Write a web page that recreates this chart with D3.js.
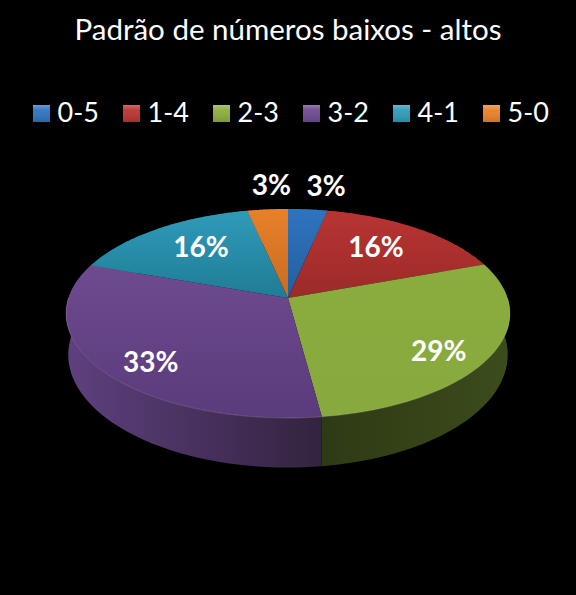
<!DOCTYPE html>
<html><head><meta charset="utf-8">
<script src="https://cdn.jsdelivr.net/npm/d3@7/dist/d3.min.js"></script>
<style>html,body{margin:0;padding:0;background:#000}svg{display:block}text{font-family:Lato,"Open Sans",sans-serif;fill:#fff}</style>
</head><body><script>
const titleText = "Padrão de números baixos - altos";
const categories = ["0-5","1-4","2-3","3-2","4-1","5-0"];
const percentages = [3.3,16.1,28.5,32.5,16.2,3.4];
const colorsTop = ["#2f74bf","#b93432","#8bad3f","#6f4a90","#2f9bb9","#e8812b"];
const colorsBottom = ["#215f9e","#9a2b29","#87a93d","#5a3b7b","#1f7c96","#c96b20"];
const wallLeft = ["#1c3c62","#5e1e1c","#2e3a14","#5e407f","#145060","#7e4214"];
const wallRight = ["#1c3c62","#5e1e1c","#3c4c1c","#33233f","#145060","#7e4214"];
// layout of the percent labels: radial fraction and small turn (degrees) from slice middle
const labelRadius = [1.33,0.69,0.8,0.81,0.69,1.32];
const labelTurn = [3,-2,6,-6,3,2.2];

const W=576,H=595;
const svg=d3.select("body").append("svg").attr("width",W).attr("height",H);
svg.append("rect").attr("width",W).attr("height",H).attr("fill","#000");
const defs=svg.append("defs");

const cx=288,cy=298,a=219.5,b=102.2,k=-0.148,bottomShrink=0.99,bottomStretch=1.08,bottomDrop=40;
function project(theta,r=1){
  const u=r*Math.sin(theta),v=-r*Math.cos(theta),w=1+k*v;
  return [cx+a*u/w,cy+b*v/w];
}
const lift=p=>[cx+(p[0]-cx)*bottomShrink,cy+(p[1]-cy)*bottomStretch+bottomDrop];
const line=d3.line();
const arcPts=(s,e)=>d3.range(0,61).map(i=>project(s+(e-s)*i/60));

const arcs=d3.pie().sort(null)(percentages);

// gradients
arcs.forEach((d,i)=>{
  const g=defs.append("linearGradient").attr("id","top"+i).attr("x1",0).attr("y1",0).attr("x2",0).attr("y2",1);
  g.append("stop").attr("offset",0).attr("stop-color",colorsTop[i]);
  g.append("stop").attr("offset",1).attr("stop-color",colorsBottom[i]);
  const h=defs.append("linearGradient").attr("id","wall"+i).attr("x1",0).attr("y1",0).attr("x2",1).attr("y2",0);
  h.append("stop").attr("offset",0).attr("stop-color",wallLeft[i]);
  h.append("stop").attr("offset",1).attr("stop-color",wallRight[i]);
});

// title
svg.append("text").attr("x",288).attr("y",40).attr("text-anchor","middle")
  .attr("font-size",29.5).text(titleText);

// legend
const legendX=d3.scaleBand().domain(categories).range([33,33+90*6]);
const legend=svg.append("g").selectAll("g").data(categories).join("g")
  .attr("transform",d=>`translate(${legendX(d)},0)`);
const sg=defs.append("linearGradient").attr("id","sheen").attr("x1",0).attr("y1",0).attr("x2",0).attr("y2",1);
sg.append("stop").attr("offset",0).attr("stop-color","#fff").attr("stop-opacity",.28);
sg.append("stop").attr("offset",.3).attr("stop-color","#fff").attr("stop-opacity",.05);
sg.append("stop").attr("offset",1).attr("stop-color","#000").attr("stop-opacity",.12);
legend.append("rect").attr("y",105).attr("width",17).attr("height",17).attr("fill",(d,i)=>colorsTop[i]);
legend.append("rect").attr("y",105).attr("width",17).attr("height",17).attr("fill","url(#sheen)");
legend.append("text").attr("x",24.5).attr("y",122).attr("font-size",27).text(d=>d);

// side walls (back to front; the top faces hide the rear ones)
const pie=svg.append("g");
pie.selectAll("path.wall").data(arcs).join("path").attr("class","wall")
  .attr("fill",(d,i)=>`url(#wall${i})`)
  .attr("d",d=>{
    const t=arcPts(d.startAngle,d.endAngle);
    return line(t.concat(t.map(lift).reverse()))+"Z";
  });

// top faces
pie.selectAll("path.top").data(arcs).join("path").attr("class","top")
  .attr("fill",(d,i)=>`url(#top${i})`)
  .attr("d",d=>line([[cx,cy]].concat(arcPts(d.startAngle,d.endAngle)))+"Z");

// pale highlight along the rim of the front slices
pie.selectAll("path.rim").data(arcs).join("path").attr("class","rim")
  .attr("fill","none").attr("stroke","#fff").attr("stroke-opacity",.18).attr("stroke-width",1)
  .attr("d",d=>{
    const s=Math.max(d.startAngle,Math.PI/2),e=Math.min(d.endAngle,Math.PI*1.5);
    return e>s?line(arcPts(s,e)):null;
  });

// percent labels
svg.append("g").selectAll("text").data(arcs).join("text")
  .attr("text-anchor","middle").attr("font-weight",700).attr("font-size",28)
  .attr("transform",(d,i)=>{
    const m=(d.startAngle+d.endAngle)/2+labelTurn[i]*Math.PI/180;
    const p=project(m,labelRadius[i]);
    return `translate(${p[0]},${p[1]+10})`;
  })
  .text(d=>Math.round(d.data)+"%");
</script></body></html>
